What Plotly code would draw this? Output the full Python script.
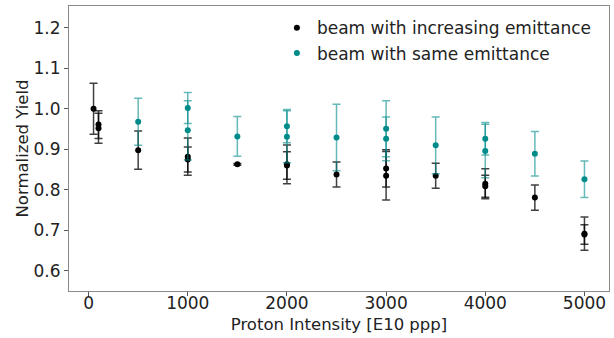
import plotly.graph_objects as go

# Black series: beam with increasing emittance
inc_x = [50, 100, 100, 500, 1000, 1000, 1500, 2000, 2000, 2500, 3000, 3000, 3500, 4000, 4000, 4500, 5000, 5000]
inc_y = [1.000, 0.961, 0.952, 0.898, 0.882, 0.875, 0.863, 0.863, 0.860, 0.838, 0.853, 0.835, 0.835, 0.815, 0.809, 0.781, 0.692, 0.690]
inc_err = [0.063, 0.034, 0.037, 0.047, 0.046, 0.031, 0.002, 0.048, 0.034, 0.031, 0.046, 0.060, 0.031, 0.037, 0.027, 0.031, 0.041, 0.024]

# Teal series: beam with same emittance
same_x = [500, 1000, 1000, 1500, 2000, 2000, 2500, 3000, 3000, 3500, 4000, 4000, 4500, 5000]
same_y = [0.968, 1.002, 0.947, 0.932, 0.957, 0.931, 0.929, 0.951, 0.926, 0.910, 0.926, 0.896, 0.889, 0.826]
same_err = [0.058, 0.038, 0.073, 0.049, 0.041, 0.064, 0.082, 0.069, 0.054, 0.070, 0.040, 0.066, 0.055, 0.045]

x_ticks = [0, 1000, 2000, 3000, 4000, 5000]
y_ticks = [0.6, 0.7, 0.8, 0.9, 1.0, 1.1, 1.2]
y_tick_labels = ["0.6", "0.7", "0.8", "0.9", "1.0", "1.1", "1.2"]

FONT = "DejaVu Sans"
fig = go.Figure()
fig.add_trace(go.Scatter(
    x=inc_x, y=inc_y, mode="markers", name="beam with increasing emittance",
    marker=dict(color="black", size=6),
    error_y=dict(type="data", array=inc_err, visible=True, color="rgba(0,0,0,0.75)", thickness=1.5, width=4),
))
fig.add_trace(go.Scatter(
    x=same_x, y=same_y, mode="markers", name="beam with same emittance",
    marker=dict(color="#008b8b", size=6),
    error_y=dict(type="data", array=same_err, visible=True, color="rgba(0,139,139,0.6)", thickness=1.5, width=4),
))

axis_common = dict(
    showgrid=False, zeroline=False, showline=True, mirror=True,
    linecolor="#8a8a8a", linewidth=1, ticks="outside", ticklen=4, tickcolor="#555",
    tickfont=dict(family=FONT, size=17, color="#222"),
    automargin=False,
)
fig.update_xaxes(range=[-197.5, 5247.5], tickvals=x_ticks, ticklabelstandoff=-7,
                 title=dict(text="Proton Intensity [E10 ppp]", font=dict(family=FONT, size=16.5, color="#222"), standoff=6),
                 **axis_common)
fig.update_yaxes(range=[0.5506, 1.2536], tickvals=y_ticks, ticktext=y_tick_labels,
                 title=dict(text="Normalized Yield", font=dict(family=FONT, size=16.5, color="#222"), standoff=0),
                 **axis_common)
fig.update_layout(
    width=614, height=338,
    margin=dict(l=69, r=5, t=6, b=47),
    plot_bgcolor="white", paper_bgcolor="white",
    font=dict(family=FONT, size=16, color="#222"),
    legend=dict(x=0.385, y=0.985, xanchor="left", yanchor="top", bgcolor="rgba(0,0,0,0)",
                font=dict(family=FONT, size=17, color="#222"), tracegroupgap=0),
    showlegend=True,
)
fig.write_html("out.html", config={"displayModeBar": False},
               post_script="document.body.style.margin='0';")
